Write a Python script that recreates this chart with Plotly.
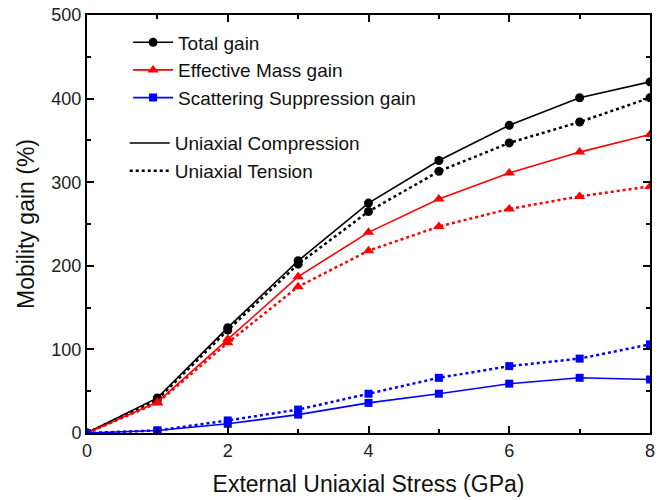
import plotly.graph_objects as go

stress = [0, 1, 2, 3, 4, 5, 6, 7, 8]

total_comp = [0, 42, 126, 206, 275, 326, 368, 401, 420]
total_tens = [0, 40, 123, 202, 265, 313, 347, 372, 401]
mass_comp = [0, 37, 112, 187, 240, 280, 311, 336, 357]
mass_tens = [0, 36, 108, 175, 218, 247, 268, 283, 295]
scat_comp = [0, 3, 11, 22, 36, 47, 59, 66, 64]
scat_tens = [0, 3, 15, 28, 47, 66, 80, 89, 106]

series_names = ["Total gain", "Effective Mass gain", "Scattering Suppression gain"]
style_names = ["Uniaxial Compression", "Uniaxial Tension"]

colors = ["#000000", "#ff0000", "#0000ff"]
symbols = ["circle", "triangle-up", "square"]
msizes = [9, 10, 8]

FONT = "Liberation Sans, Arial, sans-serif"

fig = go.Figure()

comp = [total_comp, mass_comp, scat_comp]
tens = [total_tens, mass_tens, scat_tens]

for i in range(3):
    fig.add_trace(go.Scatter(
        x=stress, y=tens[i], mode="lines+markers",
        line=dict(color=colors[i], width=2.5, dash="dot"),
        marker=dict(symbol=symbols[i], size=msizes[i], color=colors[i]),
        showlegend=False))

for i in range(3):
    fig.add_trace(go.Scatter(
        x=stress, y=comp[i], mode="lines+markers", name=series_names[i],
        line=dict(color=colors[i], width=1.6),
        marker=dict(symbol=symbols[i], size=msizes[i], color=colors[i]),
        legend="legend"))

fig.add_trace(go.Scatter(x=[None], y=[None], mode="lines", name=style_names[0],
                         line=dict(color="black", width=1.6), legend="legend2"))
fig.add_trace(go.Scatter(x=[None], y=[None], mode="lines", name=style_names[1],
                         line=dict(color="black", width=2.5, dash="dot"), legend="legend2"))

axis_common = dict(
    showline=True, linecolor="black", linewidth=2, mirror="allticks",
    ticks="inside", ticklen=7, tickwidth=1.5, tickcolor="black",
    showgrid=False, zeroline=False, automargin=False,
    tickfont=dict(family=FONT, size=18, color="#222"),
    minor=dict(ticks="inside", ticklen=4, tickwidth=1.5, tickcolor="black", showgrid=False),
)

fig.update_xaxes(range=[0, 8], dtick=2, minor_dtick=1,
                 title=dict(text="External Uniaxial Stress (GPa)", font=dict(family=FONT, size=23, color="#111"), standoff=16),
                 **axis_common)
fig.update_yaxes(range=[0, 500], dtick=100, minor_dtick=50,
                 title=dict(text="Mobility gain (%)", font=dict(family=FONT, size=23, color="#111"), standoff=10),
                 **axis_common)

fig.update_layout(
    width=664, height=500,
    margin=dict(l=87, r=14, t=15, b=67),
    paper_bgcolor="white", plot_bgcolor="white",
    font=dict(family=FONT, color="#111"),
    legend=dict(x=0.073, y=0.98, xanchor="left", yanchor="top",
                bgcolor="rgba(0,0,0,0)", font=dict(family=FONT, size=19, color="#111"),
                tracegroupgap=0, itemwidth=40),
    legend2=dict(x=0.067, y=0.739, xanchor="left", yanchor="top",
                 bgcolor="rgba(0,0,0,0)", font=dict(family=FONT, size=19, color="#111"),
                 tracegroupgap=0, itemwidth=40),
)

fig.write_html("out.html")
